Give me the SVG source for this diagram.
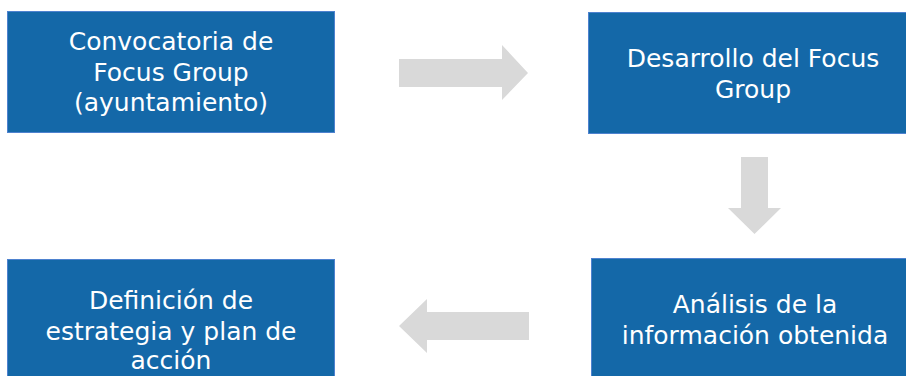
<svg xmlns="http://www.w3.org/2000/svg" width="906" height="376" viewBox="0 0 906 376">
<style>
.box{fill:#1468A8;stroke:#4E82CF;stroke-width:1}
.lbl{fill:#FFFFFF;font-family:"DejaVu Sans","Liberation Sans",sans-serif;font-size:25px;text-anchor:middle}
.arr{fill:#D9D9D9}
</style>
<rect width="906" height="376" fill="#FFFFFF"/>
<g id="n1">
<rect class="box" x="7.5" y="11.5" width="327" height="121"/>
<text class="lbl" x="171" y="50">Convocatoria de</text>
<text class="lbl" x="171" y="81">Focus Group</text>
<text class="lbl" x="171" y="111">(ayuntamiento)</text>
</g>
<g id="n2">
<rect class="box" x="588.5" y="12.5" width="327" height="121"/>
<text class="lbl" x="753" y="67">Desarrollo del Focus</text>
<text class="lbl" x="753" y="98">Group</text>
</g>
<g id="n3">
<rect class="box" x="591.5" y="258.5" width="327" height="121"/>
<text class="lbl" x="755" y="313">Análisis de la</text>
<text class="lbl" x="755" y="344">información obtenida</text>
</g>
<g id="n4">
<rect class="box" x="7.5" y="259.5" width="327" height="121"/>
<text class="lbl" x="171" y="309">Definición de</text>
<text class="lbl" x="171" y="340">estrategia y plan de</text>
<text class="lbl" x="171" y="369">acción</text>
</g>
<g id="connectors">
<polygon class="arr" points="399,59 502,59 502,45 528,73 502,100 502,87 399,87"/>
<polygon class="arr" points="741,157 768,157 768,208 781,208 754.5,234 728,208 741,208"/>
<polygon class="arr" points="529,312 427,312 427,299 399,326 427,353 427,340 529,340"/>
</g>
</svg>
